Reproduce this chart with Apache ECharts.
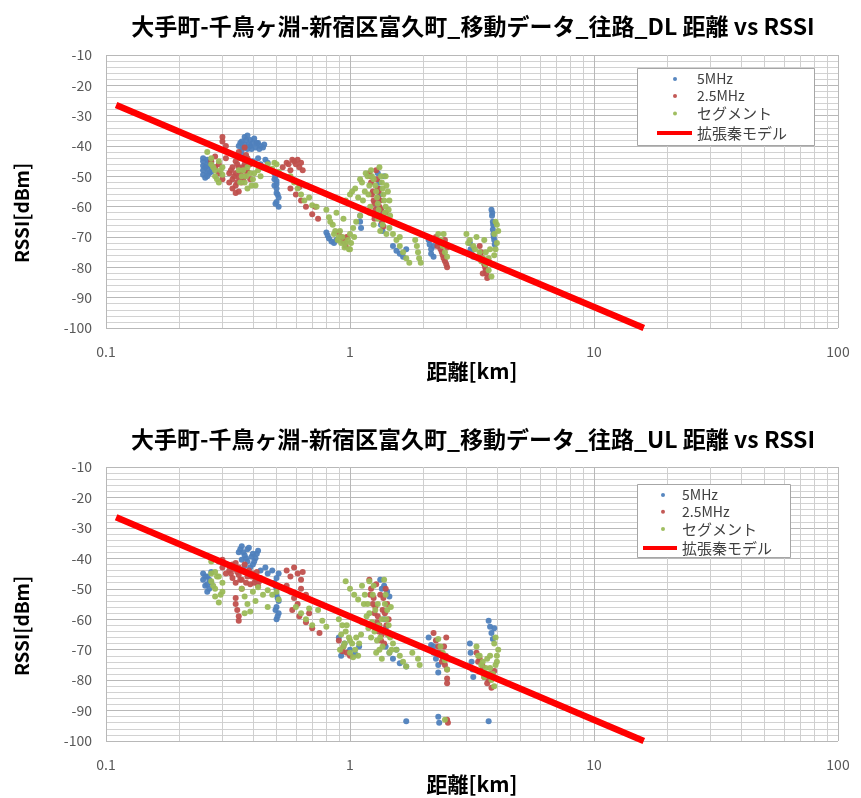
<!DOCTYPE html>
<html>
<head>
<meta charset="utf-8">
<script src="https://cdn.jsdelivr.net/npm/echarts@6/dist/echarts.min.js"></script>
<style>
  html, body { margin: 0; padding: 0; background: #fff; }
  #chart { width: 861px; height: 798px; }
</style>
</head>
<body>
<div id="chart"></div>
<script>
// ---- data (distance km, RSSI dBm) ----
const titles = [
  '大手町-千鳥ヶ淵-新宿区富久町_移動データ_往路_DL 距離 vs RSSI',
  '大手町-千鳥ヶ淵-新宿区富久町_移動データ_往路_UL 距離 vs RSSI'
];
const seriesNames = ['5MHz', '2.5MHz', 'セグメント', '拡張秦モデル'];
const xTickLabels = ['0.1', '1', '10', '100'];
const minorDistances = [0.2, 0.3, 0.4, 0.5, 0.6, 0.7, 0.8, 0.9, 2, 3, 4, 5, 6, 7, 8, 9, 20, 30, 40, 50, 60, 70, 80, 90];

// extended Hata model line (same in both charts)
const modelLine = [[0.11, -26.5], [1, -59.1], [16, -100]];

const dl5MHz = [
  [0.25, -45], [0.25, -46.5], [0.25, -48], [0.25, -49.5], [0.255, -50.5], [0.26, -44.5], [0.26, -46], [0.26, -47.5],
  [0.265, -49], [0.27, -45.5], [0.27, -47], [0.25, -44], [0.255, -47], [0.26, -49], [0.265, -45], [0.27, -48.5], [0.26, -50],
  [0.35, -40], [0.36, -38.5], [0.37, -37], [0.37, -39.5], [0.38, -41], [0.39, -38], [0.39, -40], [0.4, -39],
  [0.41, -40.5], [0.42, -39], [0.43, -40], [0.36, -41.5], [0.38, -36.5], [0.36, -43], [0.37, -44.5],
  [0.355, -39], [0.365, -40.5], [0.375, -38], [0.385, -39.5], [0.395, -41], [0.405, -37.5], [0.415, -39], [0.425, -41],
  [0.44, -40.5], [0.445, -39.5],
  [0.4, -45], [0.42, -44], [0.43, -46], [0.45, -44.5], [0.46, -45.5],
  [0.49, -49], [0.49, -51], [0.5, -52.5], [0.5, -54], [0.5, -55.5], [0.51, -57], [0.5, -58.5], [0.51, -60], [0.49, -53],
  [0.495, -50], [0.505, -56], [0.495, -59], [0.5, -51.5],
  [0.8, -68.5], [0.81, -69.5], [0.82, -70.5], [0.84, -71.5], [0.86, -72], [0.88, -71],
  [1.1, -63], [1.1, -65], [1.11, -67],
  [1.3, -49], [1.32, -52], [1.33, -56], [1.3, -60], [1.35, -63], [1.34, -66], [1.36, -68], [1.38, -50],
  [1.31, -54], [1.32, -58], [1.34, -61], [1.35, -64.5],
  [1.5, -73], [1.55, -74.5], [1.6, -75.5], [1.65, -76.5], [1.7, -74],
  [2.1, -71], [2.12, -72.5], [2.15, -74], [2.15, -75.5], [2.2, -76.5], [2.2, -73],
  [3.1, -72], [3.12, -74], [3.15, -75.5], [3.2, -76.5],
  [3.8, -61], [3.82, -63], [3.85, -65], [3.85, -67.5], [3.87, -69], [3.9, -71],
  [3.83, -62], [3.86, -66], [3.88, -70], [3.92, -72.5]
];
const dl25MHz = [
  [0.3, -37], [0.3, -38.5], [0.31, -40],
  [0.27, -45], [0.28, -43.5], [0.28, -47], [0.29, -49], [0.3, -51], [0.29, -46], [0.31, -44],
  [0.32, -49], [0.33, -47], [0.33, -51], [0.34, -45], [0.34, -49], [0.34, -53], [0.35, -42], [0.35, -47], [0.35, -50.5],
  [0.35, -55], [0.36, -44], [0.36, -48], [0.36, -52], [0.37, -40.5], [0.37, -46], [0.37, -50], [0.38, -44], [0.38, -48.5],
  [0.39, -46], [0.39, -51],
  [0.325, -48], [0.335, -50], [0.345, -46], [0.345, -52], [0.355, -44], [0.355, -49], [0.365, -47], [0.365, -51],
  [0.375, -43], [0.375, -48], [0.385, -46], [0.33, -54], [0.34, -55.5], [0.32, -52],
  [0.53, -47], [0.55, -45.5], [0.57, -48], [0.58, -44.5], [0.6, -46], [0.61, -44.5], [0.63, -45.5], [0.64, -48],
  [0.56, -46], [0.59, -45], [0.62, -47],
  [0.57, -54], [0.6, -56], [0.63, -58], [0.66, -60], [0.7, -62.5], [0.72, -60], [0.74, -64], [0.62, -53.5],
  [0.9, -68.5], [0.92, -70], [0.94, -71.5], [0.96, -73], [0.97, -70],
  [1.2, -49], [1.22, -52], [1.24, -55], [1.25, -58], [1.27, -61], [1.28, -48], [1.3, -54], [1.3, -57], [1.32, -60],
  [1.33, -63], [1.35, -65], [1.37, -66.5], [1.4, -62], [1.26, -64],
  [1.21, -50], [1.23, -56], [1.26, -59], [1.29, -51], [1.31, -55], [1.33, -58], [1.34, -61], [1.36, -63], [1.28, -62],
  [2.25, -70], [2.3, -72], [2.35, -74], [2.4, -76], [2.45, -78], [2.5, -80], [2.45, -71], [2.5, -73.5],
  [2.28, -73], [2.38, -75], [2.42, -77], [2.48, -79],
  [3.4, -73], [3.45, -75], [3.5, -77], [3.55, -79], [3.6, -81], [3.65, -83.5], [3.7, -78], [3.5, -82],
  [3.42, -76], [3.52, -78], [3.58, -80], [3.62, -82]
];
const dlSegment = [
  [0.27, -44], [0.27, -46], [0.28, -48], [0.28, -50], [0.29, -52], [0.29, -45], [0.3, -47], [0.3, -49.5], [0.26, -42],
  [0.275, -47], [0.285, -51], [0.295, -48],
  [0.35, -48], [0.36, -50], [0.37, -52], [0.38, -54], [0.39, -49], [0.4, -51], [0.41, -53], [0.42, -48], [0.43, -50], [0.38, -47],
  [0.355, -52], [0.365, -48], [0.375, -50], [0.395, -53], [0.405, -49],
  [0.46, -46], [0.48, -47.5], [0.5, -46], [0.51, -48.5], [0.49, -45.5],
  [0.57, -50], [0.59, -52], [0.61, -54], [0.63, -56], [0.65, -58], [0.68, -57], [0.7, -59.5], [0.73, -60], [0.66, -53],
  [0.8, -61], [0.82, -63.5], [0.85, -66], [0.87, -68], [0.9, -70], [0.92, -72], [0.95, -73.5], [0.98, -71], [1.0, -69],
  [1.03, -67], [1.06, -65], [1.1, -63], [0.88, -62], [0.94, -64], [1.0, -74],
  [0.86, -69], [0.89, -71], [0.91, -68], [0.93, -70], [0.96, -72], [0.99, -74], [1.01, -72], [1.04, -70], [0.83, -65],
  [0.96, -58], [1.0, -56], [1.05, -54], [1.08, -57], [1.12, -52], [1.15, -55], [1.18, -50], [1.2, -53], [1.22, -48],
  [1.25, -51], [1.28, -55], [1.3, -59], [1.32, -47], [1.35, -52], [1.37, -56], [1.4, -60], [1.42, -64], [1.45, -67],
  [1.4, -50], [1.43, -55], [1.45, -58], [1.2, -62], [1.25, -66], [1.33, -68],
  [1.02, -55], [1.1, -51], [1.13, -58], [1.16, -49], [1.19, -56], [1.21, -60], [1.23, -50], [1.27, -53], [1.29, -57],
  [1.31, -61], [1.34, -50], [1.36, -54], [1.38, -58], [1.39, -62], [1.41, -53], [1.44, -61], [1.46, -63], [1.3, -64],
  [1.36, -66], [1.41, -69],
  [1.5, -69], [1.55, -71], [1.6, -73], [1.65, -75], [1.7, -77], [1.75, -78.5], [1.6, -70],
  [1.85, -71], [1.88, -73], [1.9, -75], [1.92, -77], [1.95, -78.5],
  [2.3, -69], [2.35, -71], [2.4, -73], [2.45, -75], [2.5, -76.5], [2.42, -69],
  [3.0, -69], [3.1, -71], [3.2, -73], [3.3, -70], [3.4, -75], [3.5, -77], [3.6, -79], [3.7, -81], [3.8, -83],
  [3.9, -76], [4.0, -72], [4.05, -68], [3.95, -65], [3.75, -74], [3.55, -71], [3.65, -78],
  [3.05, -72], [3.25, -74], [3.45, -78], [3.6, -75], [3.7, -77], [3.85, -79], [3.95, -74], [3.9, -69], [4.0, -66]
];

const ul5MHz = [
  [0.25, -45], [0.25, -47], [0.255, -49], [0.26, -51], [0.26, -46], [0.27, -48], [0.27, -44.5], [0.265, -50],
  [0.255, -46], [0.26, -48.5], [0.265, -47],
  [0.35, -38], [0.36, -36], [0.37, -39], [0.38, -37], [0.38, -41], [0.39, -43], [0.4, -38.5], [0.41, -40],
  [0.42, -37.5], [0.4, -42], [0.36, -40.5],
  [0.355, -37], [0.365, -38], [0.375, -40], [0.385, -36.5], [0.395, -39.5], [0.405, -41], [0.415, -38.5], [0.37, -42.5],
  [0.43, -44], [0.45, -43], [0.46, -45], [0.48, -44], [0.5, -46.5], [0.51, -45],
  [0.49, -48], [0.5, -50], [0.5, -52], [0.51, -54], [0.5, -56], [0.51, -58], [0.5, -60],
  [0.495, -49], [0.505, -53], [0.495, -57], [0.505, -59],
  [0.9, -66], [0.95, -68], [1.0, -70], [1.05, -71.5], [1.09, -69], [0.92, -72],
  [1.33, -47], [1.38, -49], [1.42, -51], [1.45, -52.5], [1.35, -50], [1.38, -60], [1.4, -63],
  [1.4, -69], [1.45, -71], [1.5, -73], [1.6, -74.5], [1.7, -75.5], [1.55, -70],
  [2.1, -66], [2.15, -68.5], [2.2, -71], [2.25, -73], [2.3, -75], [2.3, -77.5], [2.2, -69],
  [3.1, -68], [3.12, -71], [3.15, -74], [3.18, -76.5], [3.2, -79],
  [3.7, -60.5], [3.75, -62.5], [3.8, -64.5], [3.85, -66.5], [3.9, -63],
  [1.7, -93.5], [2.3, -92], [2.32, -94], [3.7, -93.5]
];
const ul25MHz = [
  [0.29, -41], [0.3, -43], [0.31, -45], [0.3, -40.5],
  [0.32, -44], [0.33, -42], [0.33, -46.5], [0.34, -48], [0.35, -43], [0.35, -45.5], [0.36, -47], [0.36, -50],
  [0.37, -42], [0.37, -44.5], [0.38, -46], [0.39, -48.5], [0.4, -45], [0.41, -47], [0.42, -49], [0.43, -46.5], [0.34, -41.5],
  [0.325, -45], [0.335, -43.5], [0.345, -44.5], [0.355, -47], [0.365, -44], [0.375, -48], [0.385, -44], [0.395, -46],
  [0.405, -48], [0.415, -44.5], [0.425, -47.5],
  [0.34, -53], [0.34, -55], [0.345, -57], [0.35, -59], [0.35, -60.5],
  [0.55, -44], [0.57, -46], [0.59, -43], [0.61, -45], [0.63, -47], [0.64, -44.5],
  [0.55, -49], [0.57, -51], [0.59, -53], [0.61, -55], [0.63, -50], [0.66, -52],
  [0.58, -57], [0.62, -59], [0.66, -61], [0.7, -63], [0.75, -64.5], [0.68, -58],
  [0.9, -67], [0.94, -69], [0.97, -71], [1.0, -72], [0.93, -70.5],
  [1.2, -47], [1.22, -50], [1.25, -53], [1.27, -56], [1.3, -59], [1.32, -62], [1.35, -65], [1.38, -68], [1.4, -50],
  [1.42, -55], [1.44, -60], [1.28, -48.5], [1.33, -52], [1.36, -57],
  [1.21, -52], [1.24, -55], [1.26, -58], [1.29, -61], [1.31, -64], [1.34, -67], [1.37, -53], [1.39, -58], [1.41, -62], [1.43, -65],
  [2.2, -64.5], [2.25, -67], [2.3, -69], [2.35, -71], [2.4, -73], [2.45, -75], [2.5, -76.5], [2.48, -66], [2.5, -79.5], [2.5, -81],
  [2.28, -71], [2.38, -74], [2.43, -69], [2.47, -72],
  [3.3, -71], [3.4, -73], [3.5, -75.5], [3.6, -78], [3.7, -80], [3.8, -82.5], [3.9, -77],
  [3.35, -74], [3.45, -77], [3.55, -79], [3.65, -81], [3.75, -78],
  [2.5, -93], [2.52, -94]
];
const ulSegment = [
  [0.27, -45], [0.27, -47.5], [0.28, -50], [0.28, -52.5], [0.29, -54.5], [0.29, -46], [0.3, -48], [0.3, -51], [0.28, -44.5], [0.27, -41],
  [0.275, -49], [0.285, -46], [0.295, -52],
  [0.36, -50], [0.37, -52.5], [0.38, -55], [0.39, -57.5], [0.4, -51], [0.41, -54], [0.42, -49.5], [0.44, -52], [0.46, -56], [0.37, -58],
  [0.46, -50.5], [0.48, -52], [0.5, -51], [0.51, -53.5],
  [0.6, -56], [0.63, -58], [0.66, -60], [0.7, -62], [0.74, -57], [0.77, -60.5], [0.8, -62.5], [0.68, -56.5],
  [0.9, -60], [0.93, -62], [0.96, -64], [0.99, -66], [1.02, -68], [1.05, -70], [1.08, -72], [1.11, -65], [1.12, -61], [0.95, -68], [1.0, -71],
  [0.92, -65], [0.94, -69], [0.97, -62], [1.0, -67], [1.03, -72.5], [1.06, -66], [1.09, -68], [0.91, -70],
  [0.96, -47.5], [1.0, -50], [1.04, -52], [1.08, -53.5],
  [1.12, -49], [1.15, -52], [1.18, -55], [1.2, -58], [1.23, -61], [1.26, -64], [1.29, -67], [1.32, -70], [1.35, -73],
  [1.38, -47], [1.4, -52], [1.42, -57], [1.44, -62], [1.46, -66], [1.48, -70], [1.25, -49], [1.3, -55], [1.35, -60],
  [1.14, -55], [1.17, -59], [1.19, -63], [1.22, -66], [1.24, -52], [1.27, -57], [1.31, -62], [1.33, -66], [1.36, -69],
  [1.39, -55], [1.41, -60], [1.43, -65], [1.45, -71], [1.47, -56], [1.2, -47.5], [1.28, -71],
  [1.5, -68], [1.55, -70], [1.6, -72], [1.65, -74], [1.7, -75.5], [1.8, -71], [1.9, -73], [1.93, -75],
  [2.3, -66.5], [2.35, -69], [2.4, -71], [2.45, -73.5], [2.5, -76.5],
  [2.45, -93],
  [3.3, -69], [3.4, -72], [3.5, -74], [3.6, -76], [3.7, -78], [3.8, -80], [3.9, -82], [4.0, -74], [4.05, -70],
  [3.95, -66], [3.75, -72], [3.55, -79],
  [3.35, -72], [3.45, -75], [3.65, -73], [3.75, -76], [3.85, -78], [3.95, -75], [4.0, -72], [3.9, -68]
];

// ---- chart ----
const FONT = '"Noto Sans CJK JP", "Noto Sans", sans-serif';
const colors = ['#4f81bd', '#c0504d', '#9bbb59', '#ff0000'];

const chart = echarts.init(document.getElementById('chart'), null, { renderer: 'canvas' });

const grids = [
  { left: 106, right: 23, top: 55, height: 273 },
  { left: 106, right: 23, top: 467, height: 274 }
];

function xAxisFor(i) {
  return {
    type: 'log',
    logBase: 10,
    gridIndex: i,
    min: 0.1,
    max: 100,
    axisLine: { show: false },
    axisTick: { show: false },
    axisLabel: {
      margin: 17,
      fontSize: 14,
      color: '#595959',
      fontFamily: FONT,
      formatter: v => xTickLabels.find(t => Math.abs(parseFloat(t) - v) < 1e-9 * Math.max(1, v)) || ''
    },
    splitLine: { show: true, lineStyle: { color: '#b8b8b8', width: 1 } },
    name: '距離[km]',
    nameLocation: 'middle',
    nameGap: 33,
    nameTextStyle: { fontSize: 21, fontWeight: 'bold', color: '#000', fontFamily: FONT }
  };
}

function yAxisFor(i) {
  return {
    type: 'value',
    gridIndex: i,
    min: -100,
    max: -10,
    interval: 10,
    axisLine: { show: false },
    axisTick: { show: false },
    axisLabel: { margin: 14, fontSize: 14, color: '#595959', fontFamily: FONT },
    splitLine: { show: true, lineStyle: { color: '#b8b8b8', width: 1 } },
    minorTick: { show: false, splitNumber: 5 },
    minorSplitLine: { show: true, lineStyle: { color: '#d2d2d2', width: 1 } }
  };
}

function scatter(name, data, i, color) {
  return {
    name, type: 'scatter', data,
    xAxisIndex: i, yAxisIndex: i,
    symbol: 'circle', symbolSize: 6,
    itemStyle: { color, opacity: 0.95 },
    z: 2
  };
}

function model(i) {
  return {
    name: seriesNames[3], type: 'line', data: modelLine,
    xAxisIndex: i, yAxisIndex: i,
    showSymbol: false, symbol: 'none',
    lineStyle: { color: colors[3], width: 6.5 },
    itemStyle: { color: colors[3] },
    z: 3,
    markLine: {
      silent: true, z: 1, symbol: ['none', 'none'],
      label: { show: false },
      lineStyle: { color: '#cfcfcf', width: 1, type: 'solid' },
      data: minorDistances.map(v => ({ xAxis: v }))
    }
  };
}

const cjk = s => /[^\x00-\x7f]/.test(s);
// dotX: centre of legend dot, lineX: left of legend line, textX: start of text
function legendPair(dotX, lineX, textX, top, rowGap) {
  const textFor = shift => ({
    fontSize: 14, color: '#404040', fontFamily: FONT,
    rich: {
      a: { fontSize: 14, color: '#404040', fontFamily: FONT, padding: [0, 0, 0, shift] },
      c: { fontSize: 15, color: '#404040', fontFamily: FONT, padding: [0, 0, 0, shift] }
    }
  });
  const fmt = n => (cjk(n) ? '{c|' + n + '}' : '{a|' + n + '}');
  // dot icon is 4px wide starting at dotX - 2; ECharts puts text 5px after the icon
  const dotShift = textX - (dotX - 2 + 4 + 5);
  return [
    {
      orient: 'vertical', left: dotX - 2, top, padding: 0, itemGap: rowGap - 15,
      itemWidth: 4, itemHeight: 4,
      data: seriesNames.slice(0, 3).map(n => ({ name: n, icon: 'circle' })),
      textStyle: textFor(dotShift), formatter: fmt, z: 6, selectedMode: false
    },
    {
      orient: 'vertical', left: lineX, top: top + 3 * rowGap - 0.5, padding: 0,
      itemWidth: textX - lineX - 5, itemHeight: 4,
      data: [{ name: seriesNames[3], icon: 'rect' }],
      textStyle: textFor(0), formatter: fmt, z: 6, selectedMode: false
    }
  ];
}

const option = {
  animation: false,
  color: colors,
  title: titles.map((t, i) => ({
    text: t,
    left: 473,
    textAlign: 'center',
    top: i === 0 ? 15 : 428,
    padding: 0,
    textStyle: { fontSize: 23, fontWeight: 'bold', color: '#000', fontFamily: FONT }
  })),
  grid: grids,
  xAxis: [xAxisFor(0), xAxisFor(1)],
  yAxis: [yAxisFor(0), yAxisFor(1)],
  legend: [...legendPair(675, 657, 697, 72, 18), ...legendPair(663, 643, 682, 488, 17.7)],
  graphic: [
    { type: 'rect', z: 5, shape: { x: 637.5, y: 68.5, width: 177, height: 77 }, style: { fill: '#fff', stroke: '#a6a6a6', lineWidth: 1 } },
    { type: 'rect', z: 5, shape: { x: 637.5, y: 484.5, width: 153, height: 73 }, style: { fill: '#fff', stroke: '#a6a6a6', lineWidth: 1 } },
    { type: 'text', z: 5, x: 22, y: 213, rotation: Math.PI / 2, style: { text: 'RSSI[dBm]', font: 'bold 19px ' + FONT, fill: '#000', align: 'center', verticalAlign: 'middle' } },
    { type: 'text', z: 5, x: 22, y: 626, rotation: Math.PI / 2, style: { text: 'RSSI[dBm]', font: 'bold 19px ' + FONT, fill: '#000', align: 'center', verticalAlign: 'middle' } }
  ],
  series: [
    scatter(seriesNames[0], dl5MHz, 0, colors[0]),
    scatter(seriesNames[1], dl25MHz, 0, colors[1]),
    scatter(seriesNames[2], dlSegment, 0, colors[2]),
    model(0),
    scatter(seriesNames[0], ul5MHz, 1, colors[0]),
    scatter(seriesNames[1], ul25MHz, 1, colors[1]),
    scatter(seriesNames[2], ulSegment, 1, colors[2]),
    model(1)
  ]
};

chart.setOption(option);
window.addEventListener('resize', () => chart.resize());
</script>
</body>
</html>
